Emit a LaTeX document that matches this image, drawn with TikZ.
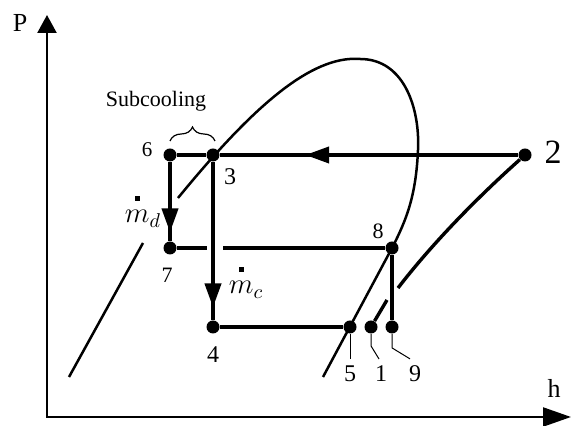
\documentclass[tikz,border=0pt]{standalone}
\usepackage{amsmath}
\usepackage{fontspec}
\setmainfont{Liberation Serif}
\usetikzlibrary{arrows.meta, calc, decorations.pathreplacing, decorations.markings}

\newcommand{\mflow}[1]{$\overset{\raisebox{2pt}{\rule{2.6pt}{2.6pt}}}{m}_{#1}$}
\newcommand{\fs}[1]{\fontsize{#1}{#1}\selectfont}

\begin{document}
\begin{tikzpicture}[x=0.5pt, y=0.5pt, every node/.style={font=\fs{12}}]
  \tikzset{dot/.style={circle, fill, inner sep=0pt, minimum size=6.5pt},
    cyc/.style={line width=2pt},
    satline/.style={line width=1.25pt},
    shline/.style={line width=1.7pt},
    leader/.style={line width=0.5pt},
    axis/.style={line width=1.15pt},
    flowline/.style={cyc, postaction={decorate},
      decoration={markings, mark=at position #1 with {\arrow{Triangle[length=12pt, width=8pt]}}}}}
  \useasboundingbox (0,0) rectangle (577,426);

  % axes
  \coordinate (o) at (47,9);
  \coordinate (ptip) at (47,411);
  \coordinate (htip) at (571,9);
  \draw[axis, {Triangle[length=9pt, width=9.5pt]}-{Triangle[length=14pt, width=9.5pt]}] (ptip) -- (o) -- (htip);
  \node[font=\fs{13}] (plab) at (20,403) {P};
  \node[font=\fs{13}] (hlab) at (554,38) {h};

  % saturation dome
  \draw[satline] (69,49) -- (143,183);
  \draw[satline] (178,228) .. controls (250,316) and (310,371) .. (360,367)
    .. controls (405,367) and (420,316) .. (418,276)
    .. controls (416,231) and (407,207) .. (392,178) -- (323,49);

  % state points
  \node[dot] (p6) at (170,271) {};
  \node[dot] (p3) at (213,271) {};
  \node[dot] (p2) at (525,271) {};
  \node[dot] (p7) at (170,178) {};
  \node[dot] (p8) at (392,178) {};
  \node[dot] (p4) at (213,99) {};
  \node[dot] (p5) at (350,99) {};
  \node[dot] (p1) at (371,99) {};
  \node[dot] (p9) at (392,99) {};

  % superheated line
  \coordinate (s1) at (398,138);
  \coordinate (s2) at (387,126);
  \draw[shline] (p2) .. controls (488,238) and (438,190) .. (s1);
  \draw[shline] (s2) -- (p1);

  % cycle
  \coordinate (g1) at (207,178);
  \coordinate (g2) at (223,178);
  \draw[flowline=0.714] (p2) -- (p3);
  \draw[cyc] (p3) -- (p6);
  \draw[flowline=0.89] (p6) -- (p7);
  \draw[flowline=0.92] (p3) -- (p4);
  \draw[cyc] (p4) -- (p5);
  \draw[cyc] (p7) -- (g1);
  \draw[cyc] (g2) -- (p8);
  \draw[cyc] (p8) -- (p9);

  % labels
  \node[font=\fs{10.5}] (l6) at (147,276) {6};
  \node (l3) at (230,249) {3};
  \node[font=\fs{17}] (l2) at (553,274) {2};
  \node[font=\fs{11}] (l8) at (378,195) {8};
  \node[font=\fs{11}] (l7) at (167,151) {7};
  \node (l4) at (213,71) {4};
  \node (l5) at (350,52) {5};
  \node (l1) at (381,52) {1};
  \node (l9) at (415,52) {9};
  \draw[leader] (p5) -- (l5.north);
  \draw[leader] (p1.south) -- ++(0,-12) -- ($(l1.north)+(-2,0)$);
  \draw[leader] (p9.south) -- ++(0,-14) -- ($(l9.north)+(-5,0)$);

  \node[font=\fs{14}] (md) at (143,216) {\mflow{d}};
  \node[font=\fs{14}] (mc) at (246,145) {\mflow{c}};

  % subcooling
  \node[font=\fs{11}] (sub) at (156,325) {Subcooling};
  \draw[line width=0.6pt, decorate, decoration={brace, amplitude=7pt}] (170,285) -- (215,285);
\end{tikzpicture}
\end{document}
